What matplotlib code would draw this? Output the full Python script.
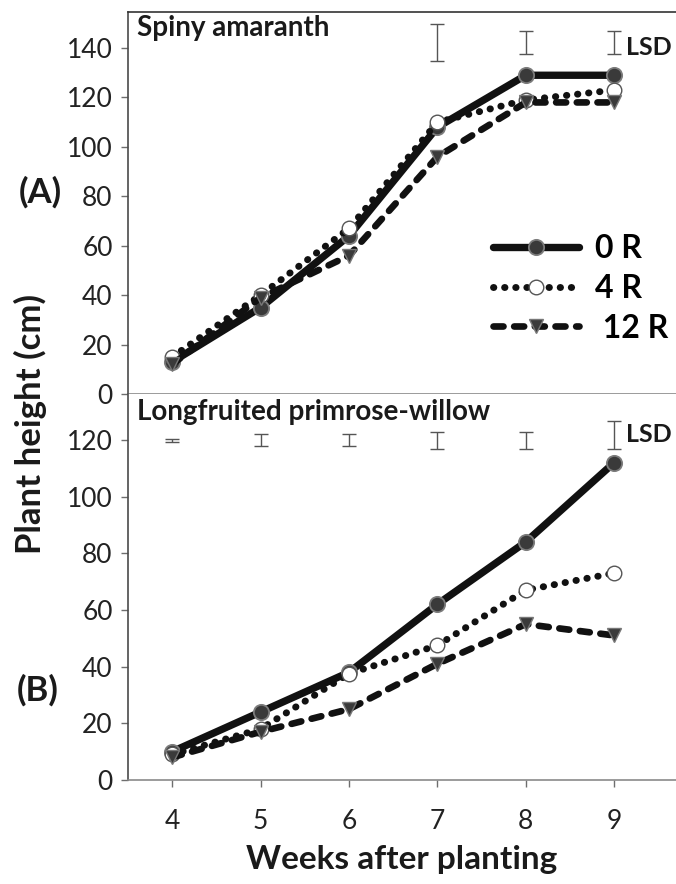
import numpy as np
import matplotlib
matplotlib.use("Agg")
import matplotlib.pyplot as plt

plt.rcParams['font.family'] = ['Lato', 'DejaVu Sans']

# weeks after planting
weeks = [4, 5, 6, 7, 8, 9]
labels = ["0 R", "4 R", " 12 R"]

# (A) spiny amaranth, plant height (cm)
amaranth_0r = [13, 35, 64, 108, 129, 129]
amaranth_4r = [15, 40, 67, 110, 119, 123]
amaranth_12r = [12, 39, 56, 96, 118, 118]
# LSD bars, drawn only at weeks 7-9
amaranth_lsd_weeks = [7, 8, 9]
amaranth_lsd_center = [142.3, 142.2, 142.2]
amaranth_lsd_half = [7.4, 4.6, 4.6]

# (B) longfruited primrose-willow, plant height (cm)
willow_0r = [10, 24, 38, 62, 84, 112]
willow_4r = [9, 18, 37.5, 47.5, 67, 73]
willow_12r = [8, 17, 25, 41, 55, 51]
willow_lsd_weeks = [4, 5, 6, 7, 8, 9]
willow_lsd_center = [119.9, 119.9, 119.9, 119.9, 119.9, 121.8]
willow_lsd_half = [0.5, 2.2, 2.2, 3.0, 3.0, 5.0]

W, H = 676, 884
fig = plt.figure(figsize=(W / 100, H / 100), dpi=100)

left = 128 / W
ax_top = fig.add_axes([left, 1 - 394 / H, 1 - left, (394 - 12) / H])
ax_bot = fig.add_axes([left, 1 - 780 / H, 1 - left, (780 - 394) / H])

# line styles for the three treatments
styles = [
    dict(color='#111111', lw=5.3, ls='-', marker='o', ms=11, mfc='#3a3a3a', mec='#7c7c7c', mew=1.3,
         solid_capstyle='round'),
    dict(color='#111111', lw=5.0, ls=(0, (0.05, 1.55)), marker='o', ms=10.5, mfc='white', mec='#555555', mew=1.0,
         dash_capstyle='round'),
    dict(color='#111111', lw=4.8, ls=(0, (1.5, 1.6)), marker='v', ms=10, mfc='#3a3a3a', mec='#777777', mew=1.0,
         dash_capstyle='round'),
]

gray = '#6e6e6e'


def draw_panel(ax, series, ylim, yticks, lsd_w, lsd_c, lsd_h, title, lsd_y, title_y):
	# plot order: solid, dashed, dotted on top
	handles = [None, None, None]
	for i in [0, 2, 1]:
		h, = ax.plot(weeks, series[i], label=labels[i], **styles[i], zorder=3 + i)
		handles[i] = h
	ax.errorbar(lsd_w, lsd_c, yerr=lsd_h, fmt='none', ecolor='#555555', elinewidth=1.0, capsize=5, capthick=1.0)
	ax.text(9.13, lsd_y, "LSD", fontsize=18, fontweight='bold', va='center', ha='left', color='#1a1a1a')
	ax.text(3.6, title_y, title, fontsize=20, fontweight='bold', va='center', ha='left', color='#1a1a1a')
	ax.set_xlim(3.5, 3.5 + 548 / 88.4)
	ax.set_ylim(*ylim)
	ax.set_yticks(yticks)
	ax.set_xticks(weeks)
	ax.tick_params(axis='y', labelsize=19, length=5, width=1, color=gray, labelcolor='#222222', pad=6)
	ax.tick_params(axis='x', length=5, width=1, color=gray, labelcolor='#222222')
	ax.spines['right'].set_visible(False)
	ax.spines['left'].set_color('#4a4a4a')
	ax.spines['bottom'].set_color('#8a8a8a')
	ax.spines['top'].set_color('#333333')
	for s in ax.spines.values():
		s.set_linewidth(1.2)
	return handles


handles = draw_panel(ax_top, [amaranth_0r, amaranth_4r, amaranth_12r], (0, 154.6), range(0, 141, 20),
                     amaranth_lsd_weeks, amaranth_lsd_center, amaranth_lsd_half, "Spiny amaranth", 140.2, 148)
ax_top.tick_params(axis='x', labelbottom=False)

draw_panel(ax_bot, [willow_0r, willow_4r, willow_12r], (0, 136.2), range(0, 121, 20),
           willow_lsd_weeks, willow_lsd_center, willow_lsd_half, "Longfruited primrose-willow", 122, 129.8)
ax_bot.spines['top'].set_visible(False)
ax_bot.tick_params(axis='x', labelsize=19, pad=16)
ax_bot.set_xlabel("Weeks after planting", fontsize=24, fontweight='bold', labelpad=8, color='#1a1a1a')

ax_top.legend(handles=handles, loc='center left', bbox_to_anchor=(0.666, 0.277), frameon=False,
              prop=dict(weight='bold', size=23), handlelength=2.7, handletextpad=0.5,
              labelspacing=0.34, borderpad=0, borderaxespad=0, numpoints=1)

fig.text(30 / W, 1 - 424 / H, "Plant height (cm)", rotation=90, fontsize=25, fontweight='bold',
         ha='center', va='center', color='#1a1a1a')
fig.text(40 / W, 1 - 192 / H, "(A)", fontsize=25, fontweight='bold', ha='center', va='center', color='#1a1a1a')
fig.text(38 / W, 1 - 690 / H, "(B)", fontsize=25, fontweight='bold', ha='center', va='center', color='#1a1a1a')

fig.savefig("out.png", dpi=100)
